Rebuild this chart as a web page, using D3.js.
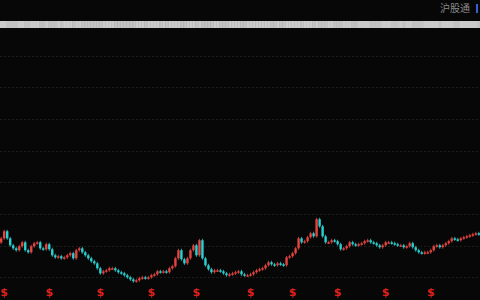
<!DOCTYPE html>
<html>
<head>
<meta charset="utf-8">
<script src="https://cdn.jsdelivr.net/npm/d3@7"></script>
<style>
  html, body { margin: 0; padding: 0; background: #070707; }
  svg { display: block; }
</style>
</head>
<body>
<div id="chart"></div>
<script>
// daily closes (one every ~3px)
var closes = [
  12.46, 12.91, 12.46, 12.02, 11.83, 11.71, 11.96, 12.21, 11.71, 11.58,
  11.96, 12.15, 12.21, 11.83, 11.77, 12.09, 11.77, 11.39, 11.26, 11.33,
  11.20, 11.26, 11.39, 11.52, 11.20, 11.71, 11.83, 11.58, 11.39, 11.20,
  11.01, 10.88, 10.57, 10.25, 10.38, 10.44, 10.57, 10.57, 10.44, 10.32,
  10.25, 10.13, 10.00, 9.87, 9.75, 9.81, 9.94, 10.00, 9.94, 10.00,
  10.13, 10.19, 10.38, 10.32, 10.38, 10.32, 10.57, 10.70, 11.20, 11.71,
  11.14, 10.88, 11.20, 11.71, 12.02, 11.39, 12.34, 11.20, 10.76, 10.51,
  10.32, 10.44, 10.44, 10.38, 10.25, 10.13, 10.19, 10.25, 10.32, 10.38,
  10.19, 10.13, 10.13, 10.19, 10.32, 10.44, 10.51, 10.57, 10.76, 10.95,
  10.82, 10.76, 10.88, 10.82, 10.76, 11.26, 11.33, 11.52, 11.83, 12.46,
  12.21, 12.28, 12.53, 12.78, 12.59, 13.67, 13.22, 12.59, 12.21, 12.21,
  12.34, 12.28, 12.09, 11.77, 11.83, 11.96, 12.21, 12.09, 12.02, 12.09,
  12.15, 12.28, 12.34, 12.21, 12.15, 12.02, 11.90, 12.02, 12.21, 12.21,
  12.15, 12.09, 12.02, 12.02, 11.90, 11.96, 12.15, 11.90, 11.71, 11.58,
  11.52, 11.58, 11.58, 11.71, 11.96, 12.02, 11.90, 12.02, 12.15, 12.28,
  12.46, 12.40, 12.34, 12.46, 12.53, 12.59, 12.65, 12.72, 12.78, 12.72
];
var firstOpen = 12.20;

// horizontal grid values (price)
var gridTicks = [10, 12, 14, 16, 18, 20, 22, 24, 26];

// candle indexes that carry a red "$" marker
var markerIdx = [0, 16, 33, 50, 65, 83, 97, 112, 128, 143];

var legendLabel = "沪股通";

//setup
var width = 480, height = 300;
var upColor = "#e6443f", downColor = "#2bd0d2";

var svg = d3.select("#chart")
  .append("svg")
  .attr("width", width)
  .attr("height", height);

svg.append("rect")
  .attr("width", width)
  .attr("height", height)
  .attr("fill", "#070707");

var candles = closes.map(function (c, i) {
  return { i: i, open: i === 0 ? firstOpen : closes[i - 1], close: c };
});

var x = d3.scaleBand()
  .domain(d3.range(closes.length))
  .range([0, width])
  .paddingInner(0.2);

// price 10 sits on the bottom grid line, 26 on the top one
var y = d3.scaleLinear()
  .domain([10, 26])
  .range([277.3, 24]);

//grid
svg.append("g")
  .selectAll("line")
  .data(gridTicks)
  .join("line")
  .attr("x1", 0)
  .attr("x2", width)
  .attr("y1", function (d) { return Math.round(y(d)) + 0.5; })
  .attr("y2", function (d) { return Math.round(y(d)) + 0.5; })
  .attr("stroke", "#1d1d1d")
  .attr("stroke-dasharray", "2,2");

//top band (holdings strip)
svg.append("g")
  .selectAll("rect")
  .data(candles)
  .join("rect")
  .attr("x", function (d) { return x(d.i); })
  .attr("width", x.step() + 0.5)
  .attr("y", 21)
  .attr("height", 7)
  .attr("fill", function (d) { return d.close >= d.open ? "#cbcbcb" : "#c2c2c2"; });

//candles: thin line through the range plus the body
var cg = svg.append("g");
cg.selectAll("line")
  .data(candles)
  .join("line")
  .attr("x1", function (d) { return x(d.i) + x.bandwidth() / 2; })
  .attr("x2", function (d) { return x(d.i) + x.bandwidth() / 2; })
  .attr("y1", function (d) { return y(Math.max(d.open, d.close)) - 1.5; })
  .attr("y2", function (d) { return y(Math.min(d.open, d.close)) + 1.5; })
  .attr("stroke", function (d) { return d.close >= d.open ? upColor : downColor; })
  .attr("stroke-width", 0.8);

cg.selectAll("rect")
  .data(candles)
  .join("rect")
  .attr("x", function (d) { return x(d.i); })
  .attr("width", x.bandwidth())
  .attr("y", function (d) { return y(Math.max(d.open, d.close)); })
  .attr("height", function (d) { return Math.max(1.5, Math.abs(y(d.open) - y(d.close))); })
  .attr("fill", function (d) { return d.close >= d.open ? upColor : downColor; });

//markers
svg.append("g")
  .selectAll("text")
  .data(markerIdx)
  .join("text")
  .attr("x", function (d) { return Math.max(4, x(d) + x.bandwidth() / 2); })
  .attr("y", 296)
  .attr("text-anchor", "middle")
  .attr("font-family", "DejaVu Sans, sans-serif")
  .attr("font-size", 11)
  .attr("font-weight", "bold")
  .attr("fill", "#dd211c")
  .text("$");

//legend
svg.append("text")
  .attr("x", 470)
  .attr("y", 12)
  .attr("text-anchor", "end")
  .attr("font-family", "Noto Sans CJK SC, sans-serif")
  .attr("font-size", 10)
  .attr("fill", "#8a8a8a")
  .text(legendLabel);

svg.append("rect")
  .attr("x", 476)
  .attr("y", 4)
  .attr("width", 2)
  .attr("height", 9)
  .attr("fill", "#3a5fd0");
</script>
</body>
</html>
